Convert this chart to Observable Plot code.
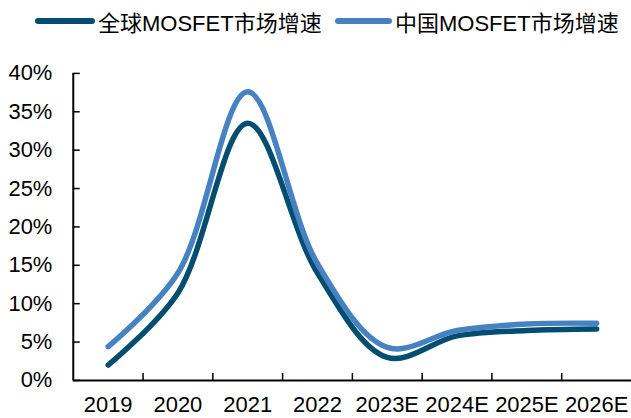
<!DOCTYPE html>
<html>
<head>
<meta charset="utf-8">
<script src="https://cdn.jsdelivr.net/npm/d3@7"></script>
<script src="https://cdn.jsdelivr.net/npm/@observablehq/plot@0.6"></script>
<style>
  html, body { margin: 0; padding: 0; background: #fff; overflow: hidden; width: 631px; height: 418px; }
  #legend { position: relative; height: 44px; font-family: "Liberation Sans", Arial, "Noto Sans CJK SC", sans-serif; font-size: 22px; color: #000; }
  .item { position: absolute; top: 6px; display: flex; align-items: center; height: 30px; white-space: nowrap; }
  .sw { display: inline-block; height: 6px; border-radius: 3px; margin-right: 3px; }
  svg { display: block; font-family: "Liberation Sans", Arial, sans-serif; }
</style>
</head>
<body>
<div id="legend"></div>
<div id="chart"></div>
<script>
const categories = ["2019", "2020", "2021", "2022", "2023E", "2024E", "2025E", "2026E"];
const globalGrowth = [2.0, 11.4, 33.5, 14.0, 3.0, 5.8, 6.5, 6.7];
const chinaGrowth = [4.4, 14.0, 37.6, 15.2, 4.3, 6.5, 7.35, 7.45];
const seriesNames = ["全球MOSFET市场增速", "中国MOSFET市场增速"];
const seriesColors = ["#034d70", "#4682c2"];
const yTicks = [0, 5, 10, 15, 20, 25, 30, 35, 40];

// legend
const legend = document.getElementById("legend");
const legendLeft = [35, 335];
const swatchW = [60, 57];
seriesNames.forEach((name, i) => {
  const it = document.createElement("div");
  it.className = "item";
  it.style.left = legendLeft[i] + "px";
  const sw = document.createElement("span");
  sw.className = "sw";
  sw.style.width = swatchW[i] + "px";
  sw.style.background = seriesColors[i];
  const tx = document.createElement("span");
  tx.textContent = name;
  it.appendChild(sw);
  it.appendChild(tx);
  legend.appendChild(it);
});

const data = [];
categories.forEach((c, i) => {
  data.push({i, value: globalGrowth[i], series: seriesNames[0]});
  data.push({i, value: chinaGrowth[i], series: seriesNames[1]});
});
const idx = categories.map((c, i) => i);
const halfs = categories.slice(1).map((c, i) => i + 0.5);

const chart = Plot.plot({
  width: 633,
  height: 374,
  marginLeft: 73,
  marginRight: 0,
  marginTop: 29,
  marginBottom: 37,
  x: {type: "linear", domain: [-0.5, categories.length - 0.5]},
  y: {domain: [0, 40]},
  color: {domain: seriesNames, range: seriesColors},
  marks: [
    Plot.axisY(yTicks, {tickSize: 0, tickPadding: 21, tickFormat: d => d + "%", fontSize: 22, fill: "#000", label: null}),
    Plot.axisX(idx, {tickSize: 0, tickPadding: 16, tickFormat: i => categories[i], fontSize: 22, fill: "#000", label: null}),
    Plot.ruleY(yTicks, {y: d => d, x1: -0.5, x2: -0.4, stroke: "#000", strokeWidth: 1.5}),
    Plot.ruleX(halfs, {x: d => d, y1: 0, y2: 0.9, stroke: "#000", strokeWidth: 1.5}),
    Plot.ruleX([-0.5], {y1: 0, y2: 40, stroke: "#000", strokeWidth: 2}),
    Plot.ruleY([0], {x1: -0.5, x2: categories.length - 0.5, stroke: "#000", strokeWidth: 2}),
    Plot.line(data, {x: "i", y: "value", stroke: "series", z: "series", curve: "catmull-rom", strokeWidth: 5.5, strokeLinecap: "round"})
  ]
});
document.getElementById("chart").appendChild(chart);
</script>
</body>
</html>
